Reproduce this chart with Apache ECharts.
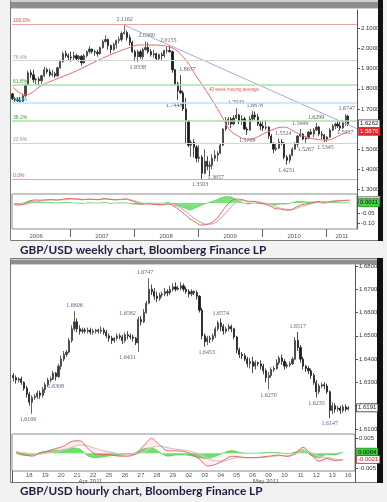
<!DOCTYPE html>
<html><head><meta charset="utf-8">
<script src="https://cdn.jsdelivr.net/npm/echarts@6/dist/echarts.min.js"></script>
<style>html,body{margin:0;padding:0;background:#f2f2f2;}#c{width:387px;height:502px;}</style>
</head><body><div id="c"></div>
<script>
// ---------------- WEEKLY CHART DATA ----------------
const weeklyDates = [
'2006-02-07','2006-02-22','2006-03-07','2006-03-22','2006-04-07','2006-04-22','2006-05-07','2006-05-22','2006-06-07','2006-06-22','2006-07-07','2006-07-22','2006-08-07','2006-08-22','2006-09-07','2006-09-22','2006-10-07','2006-10-22','2006-11-07','2006-11-22','2006-12-07','2006-12-22',
'2007-01-07','2007-01-22','2007-02-07','2007-02-22','2007-03-07','2007-03-22','2007-04-07','2007-04-22','2007-05-07','2007-05-22','2007-06-07','2007-06-22','2007-07-07','2007-07-22','2007-08-07','2007-08-22','2007-09-07','2007-09-22','2007-10-07','2007-10-22','2007-11-07','2007-11-22','2007-12-07','2007-12-22',
'2008-01-07','2008-01-22','2008-02-07','2008-02-22','2008-03-07','2008-03-22','2008-04-07','2008-04-22','2008-05-07','2008-05-22','2008-06-07','2008-06-22','2008-07-07','2008-07-22','2008-08-07','2008-08-22','2008-09-07','2008-09-22','2008-10-07','2008-10-22','2008-11-07','2008-11-22','2008-12-07','2008-12-22',
'2009-01-07','2009-01-22','2009-02-07','2009-02-22','2009-03-07','2009-03-22','2009-04-07','2009-04-22','2009-05-07','2009-05-22','2009-06-07','2009-06-22','2009-07-07','2009-07-22','2009-08-07','2009-08-22','2009-09-07','2009-09-22','2009-10-07','2009-10-22','2009-11-07','2009-11-22','2009-12-07','2009-12-22',
'2010-01-07','2010-01-22','2010-02-07','2010-02-22','2010-03-07','2010-03-22','2010-04-07','2010-04-22','2010-05-07','2010-05-22','2010-06-07','2010-06-22','2010-07-07','2010-07-22','2010-08-07','2010-08-22','2010-09-07','2010-09-22','2010-10-07','2010-10-22','2010-11-07','2010-11-22','2010-12-07','2010-12-22',
'2011-01-07','2011-01-22','2011-02-07','2011-02-22','2011-03-07','2011-03-22','2011-04-07','2011-04-22','2011-05-07'];
// [open, close, low, high]
const weeklyOHLC = [
[1.775,1.750,1.745,1.780],[1.750,1.745,1.735,1.760],[1.745,1.740,1.735,1.760],[1.740,1.738,1.730,1.760],[1.738,1.765,1.735,1.770],[1.765,1.820,1.760,1.825],[1.820,1.880,1.815,1.890],[1.880,1.870,1.855,1.895],[1.870,1.845,1.830,1.895],[1.845,1.848,1.820,1.855],[1.848,1.840,1.815,1.860],[1.840,1.865,1.825,1.870],[1.865,1.895,1.860,1.910],[1.895,1.885,1.875,1.905],[1.885,1.870,1.860,1.900],[1.870,1.875,1.860,1.895],[1.875,1.865,1.855,1.885],[1.865,1.905,1.860,1.910],[1.905,1.935,1.900,1.945],[1.935,1.975,1.930,1.985],[1.975,1.965,1.955,1.990],[1.965,1.958,1.940,1.975],
[1.958,1.955,1.935,1.985],[1.955,1.965,1.940,1.985],[1.965,1.950,1.940,1.975],[1.950,1.962,1.935,1.968],[1.962,1.930,1.915,1.968],[1.930,1.965,1.925,1.975],[1.965,1.985,1.955,1.990],[1.985,1.998,1.975,2.012],[1.998,1.985,1.975,2.000],[1.985,1.982,1.965,1.995],[1.982,1.975,1.960,1.995],[1.975,2.005,1.970,2.010],[2.005,2.035,2.000,2.045],[2.035,2.045,2.030,2.066],[2.045,2.015,1.995,2.050],[2.015,1.995,1.975,2.020],[1.995,2.020,1.990,2.030],[2.020,2.040,2.000,2.045],[2.040,2.045,2.025,2.060],[2.045,2.075,2.035,2.085],[2.075,2.080,2.070,2.1162],[2.080,2.055,2.040,2.090],[2.055,2.030,2.015,2.070],[2.030,1.985,1.980,2.040],
[1.985,1.960,1.936,1.995],[1.960,1.985,1.9338,1.995],[1.985,1.960,1.950,1.995],[1.960,1.995,1.945,2.005],[1.995,2.005,1.990,2.036],[2.005,1.985,1.975,2.030],[1.985,1.970,1.960,1.998],[1.970,1.975,1.955,1.995],[1.975,1.950,1.940,1.980],[1.950,1.970,1.940,1.975],[1.970,1.965,1.945,1.980],[1.965,1.990,1.955,1.995],[1.990,1.990,1.975,2.010],[1.990,1.985,1.980,2.0155],[1.985,1.895,1.880,1.990],[1.895,1.825,1.815,1.900],[1.825,1.790,1.7448,1.835],[1.790,1.780,1.775,1.8677],[1.780,1.700,1.690,1.790],[1.700,1.640,1.526,1.755],[1.640,1.520,1.510,1.645],[1.520,1.535,1.462,1.545],[1.535,1.510,1.460,1.550],[1.510,1.455,1.435,1.520],
[1.455,1.460,1.435,1.520],[1.460,1.380,1.3503,1.470],[1.380,1.440,1.375,1.500],[1.440,1.415,1.395,1.465],[1.415,1.420,1.3657,1.440],[1.420,1.455,1.400,1.475],[1.455,1.470,1.440,1.495],[1.470,1.480,1.440,1.490],[1.480,1.520,1.475,1.530],[1.520,1.600,1.515,1.605],[1.600,1.640,1.590,1.660],[1.640,1.650,1.620,1.660],[1.650,1.625,1.605,1.660],[1.625,1.655,1.620,1.670],[1.655,1.670,1.650,1.7043],[1.670,1.640,1.625,1.675],[1.640,1.650,1.620,1.670],[1.650,1.600,1.595,1.660],[1.600,1.595,1.5708,1.610],[1.595,1.650,1.590,1.665],[1.650,1.670,1.640,1.690],[1.670,1.660,1.645,1.6878],[1.660,1.625,1.615,1.675],[1.625,1.615,1.595,1.640],
[1.615,1.605,1.590,1.640],[1.605,1.610,1.595,1.645],[1.610,1.565,1.550,1.615],[1.565,1.530,1.525,1.575],[1.530,1.500,1.480,1.530],[1.500,1.505,1.490,1.530],[1.505,1.535,1.500,1.5524],[1.535,1.530,1.520,1.550],[1.530,1.460,1.450,1.535],[1.460,1.445,1.4231,1.470],[1.445,1.470,1.430,1.475],[1.470,1.500,1.465,1.510],[1.500,1.525,1.495,1.535],[1.525,1.565,1.510,1.570],[1.565,1.575,1.560,1.5999],[1.575,1.550,1.545,1.580],[1.550,1.555,1.5267,1.560],[1.555,1.585,1.550,1.590],[1.585,1.575,1.570,1.600],[1.575,1.595,1.560,1.605],[1.595,1.610,1.590,1.6299],[1.610,1.575,1.565,1.615],[1.575,1.570,1.550,1.590],[1.570,1.550,1.5345,1.575],
[1.550,1.560,1.535,1.565],[1.560,1.595,1.555,1.605],[1.595,1.615,1.590,1.625],[1.615,1.625,1.600,1.632],[1.625,1.615,1.605,1.640],[1.615,1.605,1.5937,1.635],[1.605,1.635,1.600,1.645],[1.635,1.665,1.6166,1.6747],[1.665,1.626,1.6147,1.670]];

const maDates = ['2006-02-07','2006-04-20','2006-07-30','2006-11-03','2007-02-09','2007-05-12','2007-08-16','2007-11-20','2008-02-03','2008-04-01','2008-07-23','2008-10-08','2008-12-25','2009-03-10','2009-05-05','2009-07-01','2009-08-28','2009-10-08','2009-11-20','2010-01-30','2010-05-01','2010-07-20','2010-10-01','2011-01-07','2011-03-22','2011-05-13'];
const maValues = [1.810,1.770,1.820,1.855,1.890,1.930,1.968,2.000,2.018,2.018,2.008,1.958,1.858,1.760,1.680,1.595,1.560,1.545,1.555,1.585,1.610,1.580,1.555,1.545,1.570,1.5876];
const maLabelText = '40 week moving average';
const maLabelDate = '2009-03-01';
const maLabelValue = 1.794;

const trendDates = ['2007-11-08','2011-06-26'];
const trendValues = [2.1162, 1.602];

const fibLevels = [2.1162, 1.9354, 1.8236, 1.7333, 1.6429, 1.5311, 1.3503];
const fibLabels = ['100.0%','76.4%','61.8%','50.0%','38.2%','23.6%','0.0%'];

const weeklyNoteDates = ['2007-11-08','2008-03-14','2008-07-15','2008-01-22','2008-09-22','2008-09-10','2009-01-23','2009-03-02','2009-08-05','2009-10-08','2009-11-20','2010-04-14','2010-05-20','2010-08-06','2010-09-07','2010-11-04','2010-12-29','2011-04-28','2011-03-17'];
const weeklyNoteValues = [2.1162,2.0360,2.0155,1.9338,1.8677,1.7448,1.3503,1.3657,1.7043,1.5708,1.6878,1.5524,1.4231,1.5999,1.5267,1.6299,1.5345,1.6747,1.5937];

const weeklyPriceTicks = [1.3,1.4,1.5,1.6,1.7,1.8,1.9,2.0,2.1];
const weeklyLastPrice = 1.6262;
const weeklyLastMA = 1.5876;
const yearLabels = ['2006','2007','2008','2009','2010','2011'];
const yearLabelDates = ['2006-06-22','2007-07-02','2008-07-02','2009-07-02','2010-07-02','2011-04-01'];
const yearBoundaries = ['2007-01-01','2008-01-01','2009-01-01','2010-01-01','2011-01-01'];

const macdTopDates = [
'2006-02-15','2006-03-15','2006-04-15','2006-05-15','2006-06-15','2006-07-15','2006-08-15','2006-09-15','2006-10-15','2006-11-15','2006-12-15',
'2007-01-15','2007-02-15','2007-03-15','2007-04-15','2007-05-15','2007-06-15','2007-07-15','2007-08-15','2007-09-15','2007-10-15','2007-11-15','2007-12-15',
'2008-01-15','2008-02-15','2008-03-15','2008-04-15','2008-05-15','2008-06-15','2008-07-15','2008-08-15','2008-09-15','2008-10-15','2008-11-15','2008-12-15',
'2009-01-15','2009-02-15','2009-03-15','2009-04-15','2009-05-15','2009-06-15','2009-07-15','2009-08-15','2009-09-15','2009-10-15','2009-11-15','2009-12-15',
'2010-01-15','2010-02-15','2010-03-15','2010-04-15','2010-05-15','2010-06-15','2010-07-15','2010-08-15','2010-09-15','2010-10-15','2010-11-15','2010-12-15',
'2011-01-15','2011-02-15','2011-03-15','2011-04-15','2011-05-15'];
const macdTop = [-0.008,-0.010,-0.005,0.010,0.015,0.014,0.016,0.017,0.015,0.018,0.022,
0.021,0.019,0.016,0.019,0.018,0.017,0.022,0.018,0.016,0.018,0.020,0.012,
0.002,-0.006,-0.004,-0.006,-0.009,-0.008,-0.004,-0.015,-0.035,-0.055,-0.080,-0.095,
-0.110,-0.108,-0.100,-0.080,-0.045,-0.010,0.015,0.020,0.015,0.005,0.008,0.002,
-0.005,-0.015,-0.028,-0.030,-0.036,-0.034,-0.020,-0.008,-0.004,0.002,0.008,0.004,
0.006,0.010,0.011,0.013,0.014];
const signalTop = [-0.005,-0.007,-0.007,-0.002,0.006,0.010,0.013,0.015,0.015,0.016,0.018,
0.020,0.020,0.018,0.018,0.018,0.017,0.019,0.019,0.017,0.017,0.019,0.016,
0.008,0.000,-0.003,-0.005,-0.007,-0.008,-0.006,-0.009,-0.020,-0.038,-0.060,-0.080,
-0.097,-0.106,-0.106,-0.095,-0.072,-0.042,-0.012,0.008,0.014,0.010,0.008,0.005,
0.000,-0.008,-0.018,-0.025,-0.031,-0.034,-0.027,-0.016,-0.009,-0.003,0.004,0.005,
0.005,0.008,0.010,0.012,0.013];
const histTop = [-0.003,-0.003,0.002,0.010,0.008,0.004,0.003,0.002,0.000,0.002,0.004,
0.001,-0.001,-0.002,0.001,0.000,0.000,0.003,-0.001,-0.001,0.001,0.001,-0.004,
-0.006,-0.006,-0.001,-0.001,-0.002,0.000,0.002,-0.006,-0.015,-0.025,-0.035,-0.025,
-0.013,-0.002,0.006,0.015,0.027,0.032,0.027,0.012,0.001,-0.005,0.000,-0.003,
-0.005,-0.007,-0.010,-0.005,-0.005,0.000,0.007,0.008,0.005,0.005,0.004,-0.001,
0.001,0.002,0.001,0.001,0.001];
const macdTopTicks = [-0.10,-0.05];
const macdTopLast = 0.0140;
const histTopLast = 0.0011;

// ---------------- HOURLY CHART DATA ----------------
const hourlyDays = ['04-15','04-18','04-19','04-20','04-21','04-22','04-25','04-26','04-27','04-28','04-29','05-02','05-03','05-04','05-05','05-06','05-09','05-10','05-11','05-12','05-13','05-16'];
const barHours = ['00:00','04:00','08:00','12:00','16:00','20:00'];
const macdHours = ['00:00','12:00'];
const firstSessionStart = '12:00';
// 4-hour bars [open, close, low, high]
const hourlyOHLC = [
[1.6330,1.6320,1.6305,1.6340],[1.6320,1.6310,1.6295,1.6330],[1.6310,1.6315,1.6300,1.6322],
[1.6315,1.6300,1.6290,1.6325],[1.6300,1.6275,1.6265,1.6305],[1.6275,1.6250,1.6235,1.6285],[1.6250,1.6215,1.6200,1.6260],[1.6215,1.6235,1.6166,1.6245],[1.6235,1.6240,1.6225,1.6250],
[1.6240,1.6255,1.6230,1.6265],[1.6255,1.6245,1.6230,1.6265],[1.6245,1.6270,1.6235,1.6280],[1.6270,1.6290,1.6255,1.6300],[1.6290,1.6310,1.6280,1.6320],[1.6310,1.6315,1.6300,1.6325],
[1.6315,1.6340,1.6310,1.6350],[1.6340,1.6325,1.6308,1.6345],[1.6325,1.6370,1.6320,1.6380],[1.6370,1.6400,1.6355,1.6415],[1.6400,1.6420,1.6390,1.6435],[1.6420,1.6430,1.6410,1.6440],
[1.6430,1.6480,1.6425,1.6490],[1.6480,1.6530,1.6470,1.6545],[1.6530,1.6560,1.6520,1.6606],[1.6560,1.6530,1.6515,1.6575],[1.6530,1.6520,1.6505,1.6545],[1.6520,1.6525,1.6510,1.6535],
[1.6525,1.6520,1.6510,1.6535],[1.6520,1.6525,1.6510,1.6535],[1.6525,1.6515,1.6505,1.6535],[1.6515,1.6520,1.6505,1.6530],[1.6520,1.6525,1.6510,1.6530],[1.6525,1.6520,1.6510,1.6530],
[1.6520,1.6525,1.6510,1.6540],[1.6525,1.6515,1.6505,1.6535],[1.6515,1.6500,1.6490,1.6525],[1.6500,1.6490,1.6475,1.6510],[1.6490,1.6480,1.6465,1.6500],[1.6480,1.6490,1.6470,1.6495],
[1.6490,1.6500,1.6480,1.6510],[1.6500,1.6495,1.6485,1.6510],[1.6495,1.6480,1.6465,1.6505],[1.6480,1.6505,1.6470,1.6515],[1.6505,1.6500,1.6485,1.6520],[1.6500,1.6495,1.6485,1.6510],
[1.6495,1.6490,1.6475,1.6505],[1.6490,1.6470,1.6460,1.6495],[1.6470,1.6570,1.6431,1.6582],[1.6570,1.6560,1.6545,1.6585],[1.6560,1.6600,1.6555,1.6615],[1.6600,1.6640,1.6595,1.6650],
[1.6640,1.6700,1.6635,1.6747],[1.6700,1.6690,1.6675,1.6720],[1.6690,1.6670,1.6655,1.6705],[1.6670,1.6660,1.6645,1.6690],[1.6660,1.6675,1.6650,1.6685],[1.6675,1.6680,1.6665,1.6690],
[1.6680,1.6690,1.6670,1.6705],[1.6690,1.6685,1.6670,1.6700],[1.6685,1.6700,1.6675,1.6715],[1.6700,1.6710,1.6690,1.6725],[1.6710,1.6700,1.6690,1.6730],[1.6700,1.6705,1.6695,1.6715],
[1.6705,1.6715,1.6695,1.6730],[1.6715,1.6700,1.6690,1.6725],[1.6700,1.6690,1.6680,1.6710],[1.6690,1.6680,1.6665,1.6700],[1.6680,1.6690,1.6670,1.6700],[1.6690,1.6685,1.6675,1.6695],
[1.6685,1.6670,1.6655,1.6695],[1.6670,1.6610,1.6600,1.6675],[1.6610,1.6500,1.6485,1.6620],[1.6500,1.6475,1.6453,1.6510],[1.6475,1.6490,1.6460,1.6500],[1.6490,1.6485,1.6470,1.6500],
[1.6485,1.6500,1.6475,1.6510],[1.6500,1.6530,1.6490,1.6540],[1.6530,1.6555,1.6520,1.6565],[1.6555,1.6540,1.6520,1.6574],[1.6540,1.6520,1.6505,1.6550],[1.6520,1.6530,1.6510,1.6540],
[1.6530,1.6540,1.6520,1.6550],[1.6540,1.6530,1.6515,1.6548],[1.6530,1.6495,1.6485,1.6535],[1.6495,1.6440,1.6425,1.6500],[1.6440,1.6420,1.6405,1.6450],[1.6420,1.6415,1.6400,1.6430],
[1.6415,1.6400,1.6390,1.6425],[1.6400,1.6380,1.6365,1.6410],[1.6380,1.6390,1.6360,1.6405],[1.6390,1.6370,1.6340,1.6410],[1.6370,1.6385,1.6355,1.6395],[1.6385,1.6380,1.6370,1.6390],
[1.6380,1.6370,1.6355,1.6395],[1.6370,1.6350,1.6335,1.6380],[1.6350,1.6320,1.6300,1.6360],[1.6320,1.6330,1.6270,1.6345],[1.6330,1.6355,1.6320,1.6365],[1.6355,1.6360,1.6345,1.6370],
[1.6360,1.6385,1.6355,1.6400],[1.6385,1.6405,1.6375,1.6415],[1.6405,1.6390,1.6375,1.6420],[1.6390,1.6370,1.6355,1.6400],[1.6370,1.6375,1.6360,1.6385],[1.6375,1.6380,1.6365,1.6390],
[1.6380,1.6400,1.6375,1.6410],[1.6400,1.6480,1.6395,1.6495],[1.6480,1.6450,1.6435,1.6517],[1.6450,1.6400,1.6385,1.6460],[1.6400,1.6370,1.6355,1.6410],[1.6370,1.6360,1.6345,1.6375],
[1.6360,1.6350,1.6335,1.6370],[1.6350,1.6330,1.6315,1.6360],[1.6330,1.6300,1.6290,1.6340],[1.6300,1.6260,1.6235,1.6310],[1.6260,1.6285,1.6250,1.6295],[1.6285,1.6290,1.6275,1.6300],
[1.6290,1.6285,1.6270,1.6300],[1.6285,1.6260,1.6250,1.6295],[1.6260,1.6180,1.6147,1.6265],[1.6180,1.6200,1.6165,1.6215],[1.6200,1.6185,1.6170,1.6210],[1.6185,1.6190,1.6175,1.6200],
[1.6190,1.6180,1.6165,1.6200],[1.6180,1.6195,1.6170,1.6205],[1.6195,1.6185,1.6175,1.6205],[1.6185,1.6191,1.6180,1.6200]];

const hourlyNoteCats = ['04-18 16:00','04-20 04:00','04-21 08:00','04-27 08:00','04-27 08:00','04-28 00:00','05-03 12:00','05-04 12:00','05-09 12:00','05-11 08:00','05-12 12:00','05-13 08:00'];
const hourlyNoteValues = [1.6166,1.6308,1.6606,1.6582,1.6431,1.6747,1.6453,1.6574,1.6270,1.6517,1.6235,1.6147];
const hourlyPriceTicks = [1.61,1.62,1.63,1.64,1.65,1.66,1.67,1.68];
const hourlyLastPrice = 1.6191;
const dayTickLabels = ['18','19','20','21','22','25','26','27','28','29','02','03','04','05','06','09','10','11','12','13','16'];
const monthLabelCats = ['04-22 08:00','05-09 08:00'];
const monthLabels = ['Apr 2011','May 2011'];
const monthBoundaryCat = '05-02 00:00';

// 12-hour MACD values (first category 04-15 12:00)
const macdHour = [0.0004,-0.0005,-0.0010,0.0000,0.0008,0.0016,0.0024,0.0040,0.0042,0.0016,-0.0003,-0.0005,-0.0006,-0.0010,-0.0010,-0.0002,0.0025,0.0050,0.0028,0.0008,0.0008,0.0006,-0.0003,-0.0020,-0.0043,-0.0038,-0.0025,-0.0010,-0.0012,-0.0015,-0.0015,-0.0012,-0.0009,-0.0006,-0.0011,0.0000,0.0020,-0.0005,-0.0027,-0.0018,-0.0025,-0.0021,null];
const signalHour = [0.0005,0.0002,-0.0003,-0.0003,0.0001,0.0006,0.0012,0.0020,0.0028,0.0025,0.0016,0.0008,0.0003,-0.0002,-0.0005,-0.0004,0.0005,0.0019,0.0024,0.0019,0.0014,0.0011,0.0006,-0.0003,-0.0017,-0.0026,-0.0026,-0.0019,-0.0015,-0.0015,-0.0015,-0.0014,-0.0011,-0.0008,-0.0009,-0.0004,0.0008,0.0003,-0.0011,-0.0015,-0.0020,-0.0024,null];
const histHour = [-0.0001,-0.0007,-0.0007,0.0003,0.0007,0.0010,0.0012,0.0018,0.0014,-0.0009,-0.0015,-0.0012,-0.0008,-0.0007,-0.0004,0.0002,0.0015,0.0018,0.0004,-0.0010,-0.0006,-0.0005,-0.0009,-0.0015,-0.0018,-0.0010,0.0001,0.0009,0.0003,0.0000,0.0000,0.0002,0.0002,0.0002,-0.0002,0.0004,0.0012,-0.0008,-0.0015,-0.0003,-0.0006,0.0004,null];
const macdHourTicks = [0.005,-0.005];
const macdHourLast = -0.0021;
const histHourLast = 0.0004;

const captionTop = 'GBP/USD weekly chart, Bloomberg Finance LP';
const captionBottom = 'GBP/USD hourly chart, Bloomberg Finance LP';

// ---------------- BUILD ----------------
const T = s => Date.parse(s);   // date string -> timestamp for the value axis
const hourlyCats = [];
hourlyDays.forEach((d, di) => barHours.forEach(h => { if (di === 0 && h < firstSessionStart) return; hourlyCats.push(d + ' ' + h); }));
const macdHourCats = [];
hourlyDays.forEach((d, di) => macdHours.forEach(h => { if (di === 0 && h < firstSessionStart) return; macdHourCats.push(d + ' ' + h); }));
const dayLabelCats = hourlyDays.slice(1).map(d => d + ' 12:00');
// band between the MACD line and its signal line (drawn as a stacked area on top of the MACD line)
const bandTop = macdTop.map((v,i)=>signalTop[i]-v);
const bandHour = macdHour.map((v,i)=>v==null?null:signalHour[i]-v);

const fibColors = ['#e9a3a3','#d4d4d4','#a9e3a9','#b5e9f3','#a9e3a9','#d4d4d4','#e9a3a3'];
const fibWidths = [1,1,1.6,1.6,1.6,1,1];
const fibText = ['#d05050','#999','#40a040','#40a0c0','#40a040','#999','#d05050'];
const weeklyNoteStyle = [['top',0,0],['top',0,0],['top',0,0],['bottom',0,0],['top',7,0],['bottom',-4,0],['bottom',-2,0],['bottom',7,-4],['top',0,0],['bottom',0,0],['top',0,0],['top',3,0],['bottom',0,0],['top',0,0],['bottom',0,0],['top',0,0],['bottom',0,0],['top',0,0],['bottom',6,-3]];
const hourlyNoteStyle = [['bottom',-4,0],['bottom',0,0],['top',0,0],['left',0,-3],['left',0,6],['top',-4,0],['bottom',2,0],['top',0,0],['bottom',0,0],['top',0,0],['bottom',0,0],['bottom',0,0]];

const tiny = {fontSize:6, color:'#333', fontFamily:'Liberation Sans'};
const noteFont = {fontSize:6, color:'#333', fontFamily:'Liberation Serif'};
const W0 = T('2006-02-04'), W1 = T('2011-06-26');
const PMIN = 1.282, PMAX = 2.192, HMIN = 1.6083, HMAX = 1.6804;
const MTMIN = -0.13, MTMAX = 0.045, MHMIN = -0.006, MHMAX = 0.0065;
const NOLINE = {show:false, onZero:false};

function boxAxis(grid, min, max, val, dec, bg, fg, border){
  return {type:'value', gridIndex:grid, position:'right', min:min, max:max, axisLine:NOLINE, axisTick:{show:false}, splitLine:{show:false},
    axisLabel:Object.assign({}, tiny, {customValues:[val], formatter:v=>v.toFixed(dec), backgroundColor:bg, color:fg, borderColor:border, borderWidth:0.8, padding:[1,1,0,1], margin:2})};
}
function mainAxis(grid, min, max, ticks, dec){
  return {type:'value', gridIndex:grid, position:'right', min:min, max:max,
    axisLine:{show:true, onZero:false, lineStyle:{color:'#555', width:1}},
    axisTick:{show:true, customValues:ticks, length:3, lineStyle:{color:'#555'}},
    axisLabel:Object.assign({}, tiny, {customValues:ticks, formatter:v=>v.toFixed(dec), margin:4}),
    splitLine:{show:false}};
}

const chart = echarts.init(document.getElementById('c'));
const option = {
  animation:false,
  backgroundColor:'#f2f2f2',
  grid:[
    {left:12, right:30, top:10, height:183},
    {left:12, right:30, top:194, height:35, show:true, borderColor:'#8c8c8c', borderWidth:1},
    {left:12, right:32, top:265, height:168},
    {left:12, right:32, top:434, height:37, show:true, borderColor:'#8c8c8c', borderWidth:1}
  ],
  xAxis:[
    {type:'value', gridIndex:0, min:W0, max:W1, axisLine:NOLINE, axisTick:{show:false}, axisLabel:{show:false}, splitLine:{show:false}},
    {type:'value', gridIndex:1, position:'bottom', min:W0, max:W1, axisLine:NOLINE, splitLine:{show:false},
      axisTick:{show:true, customValues:yearBoundaries.map(T), length:8, lineStyle:{color:'#666'}},
      axisLabel:Object.assign({}, tiny, {customValues:yearLabelDates.map(T), formatter:v=>yearLabels[yearLabelDates.map(T).indexOf(v)], margin:4, color:'#555'})},
    {type:'category', gridIndex:2, position:'bottom', data:hourlyCats, boundaryGap:true, axisLine:NOLINE, axisTick:{show:false}, splitLine:{show:false},
      axisLabel:Object.assign({}, tiny, {interval:(i,v)=>dayLabelCats.indexOf(v)>=0, formatter:v=>dayTickLabels[dayLabelCats.indexOf(v)], margin:39, color:'#555'})},
    {type:'category', gridIndex:2, position:'bottom', offset:0, data:hourlyCats, boundaryGap:true, axisLine:NOLINE, axisTick:{show:false}, splitLine:{show:false},
      axisLabel:Object.assign({}, tiny, {interval:(i,v)=>monthLabelCats.indexOf(v)>=0, formatter:v=>monthLabels[monthLabelCats.indexOf(v)], margin:45, color:'#555'})},
    {type:'category', gridIndex:3, position:'bottom', data:macdHourCats, boundaryGap:true, axisLine:NOLINE, splitLine:{show:false}, axisLabel:{show:false},
      axisTick:{show:true, interval:(i,v)=>v===monthBoundaryCat, length:12, lineStyle:{color:'#555'}}}
  ],
  yAxis:[
    mainAxis(0, PMIN, PMAX, weeklyPriceTicks, 4),
    boxAxis(0, PMIN, PMAX, weeklyLastPrice, 4, '#fff', '#222', '#444'),
    boxAxis(0, PMIN, PMAX, weeklyLastMA, 4, '#e8262b', '#fff', '#e8262b'),
    mainAxis(1, MTMIN, MTMAX, macdTopTicks, 2),
    boxAxis(1, MTMIN, MTMAX, macdTopLast, 4, '#d0d0d0', '#222', '#888'),
    boxAxis(1, MTMIN, MTMAX, histTopLast, 4, '#4ad04a', '#111', '#2a9a2a'),
    mainAxis(2, HMIN, HMAX, hourlyPriceTicks, 4),
    boxAxis(2, HMIN, HMAX, hourlyLastPrice, 4, '#fff', '#222', '#444'),
    mainAxis(3, MHMIN, MHMAX, macdHourTicks, 3),
    boxAxis(3, MHMIN, MHMAX, histHourLast, 4, '#3ad03a', '#111', '#2a9a2a'),
    boxAxis(3, MHMIN, MHMAX, macdHourLast, 4, '#fff', '#c02020', '#c02020')
  ],
  series:[
    {type:'candlestick', xAxisIndex:0, yAxisIndex:0, barWidth:1.7,
      data:weeklyDates.map((d,i)=>[T(d)].concat(weeklyOHLC[i])), encode:{x:0, y:[1,2,3,4]},
      itemStyle:{color:'#3a3a3a', color0:'#1a1a1a', borderColor:'#3a3a3a', borderColor0:'#1a1a1a', borderWidth:0.8},
      markLine:{silent:true, symbol:['none','none'], animation:false,
        data:fibLevels.map((v,i)=>({yAxis:v, lineStyle:{color:fibColors[i], width:fibWidths[i], type:'solid'},
          label:{show:true, formatter:fibLabels[i], position:'insideStartTop', distance:1, color:fibText[i], fontSize:5, fontFamily:'Liberation Sans'}}))}},
    {type:'line', xAxisIndex:0, yAxisIndex:0, data:maDates.map((d,i)=>[T(d), maValues[i]]), symbol:'none', smooth:0.4,
      lineStyle:{color:'#e36d6d', width:1}},
    {type:'line', xAxisIndex:0, yAxisIndex:0, data:trendDates.map((d,i)=>[T(d), trendValues[i]]), symbol:'none',
      lineStyle:{color:'#a4aae0', width:1}},
    {type:'scatter', xAxisIndex:0, yAxisIndex:0, symbolSize:1, itemStyle:{color:'rgba(0,0,0,0)'},
      data:weeklyNoteDates.map((d,i)=>({value:[T(d), weeklyNoteValues[i]], label:{position:weeklyNoteStyle[i][0], offset:[weeklyNoteStyle[i][1], weeklyNoteStyle[i][2]]}})),
      label:Object.assign({show:true, distance:2, formatter:p=>p.value[1].toFixed(4)}, noteFont)},
    {type:'scatter', xAxisIndex:0, yAxisIndex:0, symbolSize:1, itemStyle:{color:'rgba(0,0,0,0)'},
      data:[[T(maLabelDate), maLabelValue]], label:{show:true, position:'right', distance:0, formatter:maLabelText, fontSize:4.5, color:'#e03030', fontFamily:'Liberation Sans'}},
    {type:'line', xAxisIndex:1, yAxisIndex:3, data:macdTopDates.map((d,i)=>[T(d), histTop[i]]), symbol:'none', smooth:0.3,
      lineStyle:{color:'#3fc43f', width:0.6}, areaStyle:{color:'#6fe06f', opacity:0.9}},
    {type:'line', xAxisIndex:1, yAxisIndex:3, stack:'bandT', stackStrategy:'all', data:macdTopDates.map((d,i)=>[T(d), macdTop[i]]), symbol:'none', smooth:0.3,
      lineStyle:{width:0, opacity:0}},
    {type:'line', xAxisIndex:1, yAxisIndex:3, stack:'bandT', stackStrategy:'all', data:macdTopDates.map((d,i)=>[T(d), bandTop[i]]), symbol:'none', smooth:0.3,
      lineStyle:{width:0, opacity:0}, areaStyle:{color:'rgba(232,120,120,0.4)'}},
    {type:'line', xAxisIndex:1, yAxisIndex:3, data:macdTopDates.map((d,i)=>[T(d), signalTop[i]]), symbol:'none', smooth:0.3,
      lineStyle:{color:'#d9bcbc', width:1.2}},
    {type:'line', xAxisIndex:1, yAxisIndex:3, data:macdTopDates.map((d,i)=>[T(d), macdTop[i]]), symbol:'none', smooth:0.3,
      lineStyle:{color:'#e36868', width:1}},
    {type:'candlestick', xAxisIndex:2, yAxisIndex:6, barWidth:1.6,
      data:hourlyOHLC, itemStyle:{color:'#3a3a3a', color0:'#1a1a1a', borderColor:'#3a3a3a', borderColor0:'#1a1a1a', borderWidth:0.8}},
    {type:'scatter', xAxisIndex:2, yAxisIndex:6, symbolSize:1, itemStyle:{color:'rgba(0,0,0,0)'},
      data:hourlyNoteCats.map((c,i)=>({value:[c, hourlyNoteValues[i]], label:{position:hourlyNoteStyle[i][0], offset:[hourlyNoteStyle[i][1], hourlyNoteStyle[i][2]]}})),
      label:Object.assign({show:true, distance:2, formatter:p=>p.value[1].toFixed(4)}, noteFont, {color:'#333366'})},
    {type:'line', xAxisIndex:4, yAxisIndex:8, data:histHour, symbol:'none', smooth:0.3,
      lineStyle:{color:'#3fc43f', width:0.6}, areaStyle:{color:'#5fdc5f', opacity:0.9}},
    {type:'line', xAxisIndex:4, yAxisIndex:8, stack:'bandH', stackStrategy:'all', data:macdHour, symbol:'none', smooth:0.3, lineStyle:{width:0, opacity:0}},
    {type:'line', xAxisIndex:4, yAxisIndex:8, stack:'bandH', stackStrategy:'all', data:bandHour, symbol:'none', smooth:0.3, lineStyle:{width:0, opacity:0}, areaStyle:{color:'rgba(232,120,120,0.18)'}},
    {type:'line', xAxisIndex:4, yAxisIndex:8, data:signalHour, symbol:'none', smooth:0.3, lineStyle:{color:'#ddc4c4', width:1.2}},
    {type:'line', xAxisIndex:4, yAxisIndex:8, data:macdHour, symbol:'none', smooth:0.3, lineStyle:{color:'#e36868', width:1}}
  ],
  graphic:[
    {type:'rect', z:-10, shape:{x:10.5, y:0.5, width:368, height:240}, style:{fill:'#fff', stroke:'#7a7a7a', lineWidth:1}},
    {type:'rect', z:-9, shape:{x:11, y:0, width:367, height:9}, style:{fill:'#cfcfcf'}},
    {type:'rect', z:-9, shape:{x:11, y:2, width:367, height:6}, style:{fill:'#8e8e8e'}},
    {type:'rect', z:-9, shape:{x:378, y:0, width:5, height:241}, style:{fill:'#111'}},
    {type:'rect', z:-10, shape:{x:10.5, y:258.5, width:367, height:224}, style:{fill:'#fff', stroke:'#7a7a7a', lineWidth:1}},
    {type:'rect', z:-9, shape:{x:11, y:259, width:366, height:6}, style:{fill:'#cfcfcf'}},
    {type:'rect', z:-9, shape:{x:11, y:260, width:366, height:4}, style:{fill:'#8e8e8e'}},
    {type:'rect', z:-9, shape:{x:377, y:258, width:6, height:225}, style:{fill:'#111'}},
    {type:'text', left:20, top:244, style:{text:captionTop, font:'bold 11.8px Lato', fill:'#1d1d3f'}},
    {type:'text', left:20, top:485, style:{text:captionBottom, font:'bold 11.8px Lato', fill:'#1d1d3f'}}
  ]
};
chart.setOption(option);
</script></body></html>
